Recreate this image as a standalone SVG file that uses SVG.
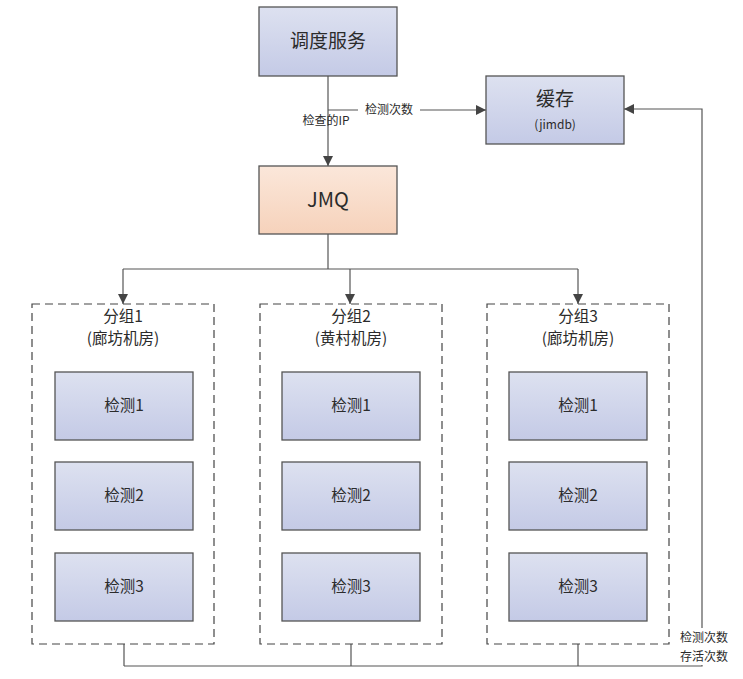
<svg xmlns="http://www.w3.org/2000/svg" width="743" height="679" viewBox="0 0 743 679">
<defs>
<linearGradient id="gb" x1="0" y1="0" x2="0" y2="1"><stop offset="0" stop-color="#dde1f0"/><stop offset="1" stop-color="#c4cae6"/></linearGradient>
<linearGradient id="go" x1="0" y1="0" x2="0" y2="1"><stop offset="0" stop-color="#fbe7da"/><stop offset="1" stop-color="#f6d2bb"/></linearGradient>
<marker id="ar" viewBox="0 0 10 10" refX="10" refY="5" markerWidth="10" markerHeight="10" markerUnits="userSpaceOnUse" orient="auto"><path d="M0,0 L10,5 L0,10 z" fill="#444"/></marker>
<style>
.n{fill:url(#gb);stroke:#555;stroke-width:1.3}
.o{fill:url(#go);stroke:#555;stroke-width:1.3}
.g{fill:none;stroke:#444;stroke-width:1.2;stroke-dasharray:8,5}
.c{fill:none;stroke:#555;stroke-width:1.2}
text{font-family:"Noto Sans CJK SC","Liberation Sans",sans-serif;fill:#2b2b2b;text-anchor:middle}
.t1{font-size:19px}
.t2{font-size:15.5px}
.t3{font-size:12px}
</style>
</defs>
<g id="connectors">
<path class="c" d="M328,76 V166" marker-end="url(#ar)"/>
<path class="c" d="M328,110 H486" marker-end="url(#ar)"/>
<path class="c" d="M328,234 V269"/>
<path class="c" d="M123,269 H578"/>
<path class="c" d="M123,269 V304" marker-end="url(#ar)"/>
<path class="c" d="M350,269 V304" marker-end="url(#ar)"/>
<path class="c" d="M578,269 V304" marker-end="url(#ar)"/>
<path class="c" d="M124,644 V666 M351,644 V666 M578,644 V666"/>
<path class="c" d="M124,666 H702 V109 H624" marker-end="url(#ar)"/>
<rect x="358" y="102" width="62" height="15" fill="#fff"/>
<text class="t3" x="389" y="114">检测次数</text>
<text class="t3" x="326" y="125">检查的IP</text>
<rect x="671" y="628" width="68" height="37" fill="#fff"/>
<text class="t3" x="704" y="642">检测次数</text>
<text class="t3" x="704" y="661">存活次数</text>
</g>
<g id="dispatch"><rect class="n" x="259" y="7" width="138" height="69"/><text class="t1" x="328" y="48">调度服务</text></g>
<g id="cache"><rect class="n" x="486" y="76" width="138" height="68"/><text class="t1" x="555" y="106">缓存</text><text class="t3" x="555" y="129">(jimdb)</text></g>
<g id="jmq"><rect class="o" x="259" y="166" width="138" height="68"/><text class="t1" x="328" y="207" style="font-size:20px">JMQ</text></g>
<g id="group1"><rect class="g" x="32" y="304" width="182" height="340"/><text class="t2" x="123" y="322">分组1</text><text class="t2" x="123" y="344">(廊坊机房)</text></g>
<g id="group2"><rect class="g" x="260" y="304" width="182" height="340"/><text class="t2" x="351" y="322">分组2</text><text class="t2" x="351" y="344">(黄村机房)</text></g>
<g id="group3"><rect class="g" x="487" y="304" width="182" height="340"/><text class="t2" x="578" y="322">分组3</text><text class="t2" x="578" y="344">(廊坊机房)</text></g>
<g id="g1c1"><rect class="n" x="55" y="372" width="138" height="68"/><text class="t2" x="124" y="411">检测1</text></g>
<g id="g1c2"><rect class="n" x="55" y="462" width="138" height="68"/><text class="t2" x="124" y="501">检测2</text></g>
<g id="g1c3"><rect class="n" x="55" y="553" width="138" height="68"/><text class="t2" x="124" y="592">检测3</text></g>
<g id="g2c1"><rect class="n" x="282" y="372" width="138" height="68"/><text class="t2" x="351" y="411">检测1</text></g>
<g id="g2c2"><rect class="n" x="282" y="462" width="138" height="68"/><text class="t2" x="351" y="501">检测2</text></g>
<g id="g2c3"><rect class="n" x="282" y="553" width="138" height="68"/><text class="t2" x="351" y="592">检测3</text></g>
<g id="g3c1"><rect class="n" x="509" y="372" width="138" height="68"/><text class="t2" x="578" y="411">检测1</text></g>
<g id="g3c2"><rect class="n" x="509" y="462" width="138" height="68"/><text class="t2" x="578" y="501">检测2</text></g>
<g id="g3c3"><rect class="n" x="509" y="553" width="138" height="68"/><text class="t2" x="578" y="592">检测3</text></g>
</svg>
